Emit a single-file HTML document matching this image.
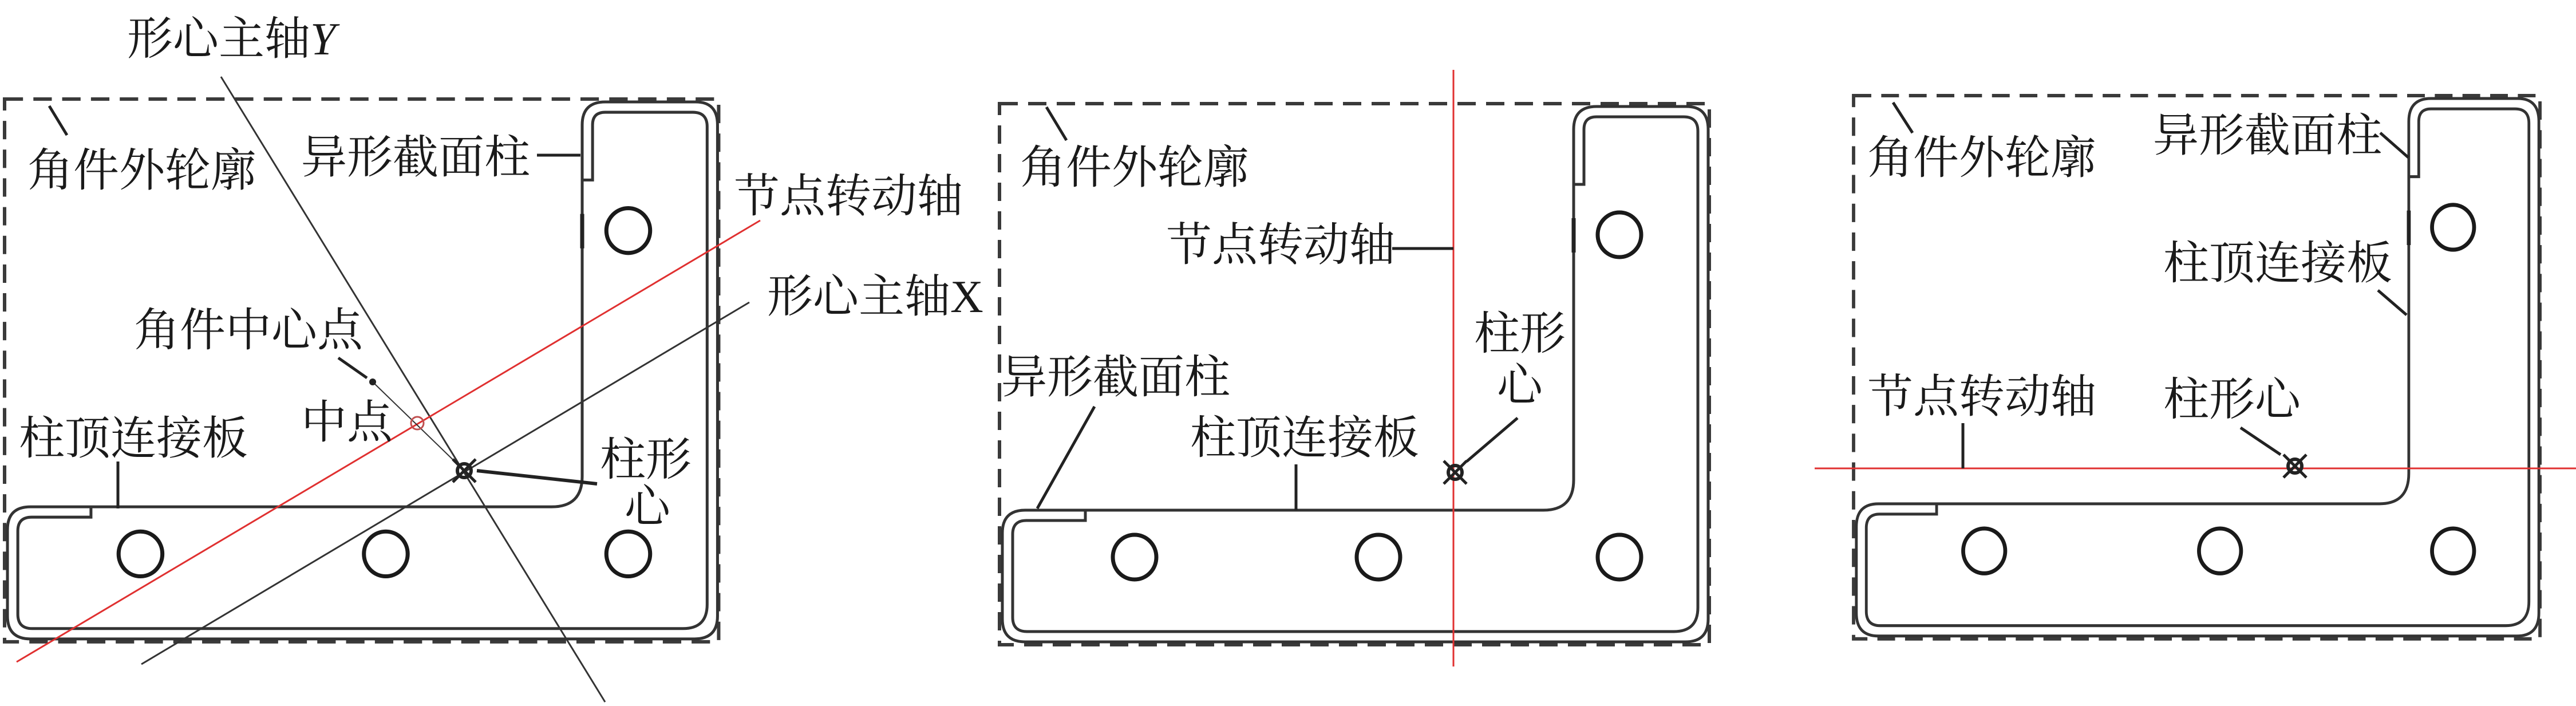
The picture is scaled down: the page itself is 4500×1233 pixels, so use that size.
<!DOCTYPE html>
<html><head><meta charset="utf-8"><style>
html,body{margin:0;padding:0;background:#fff;}
svg{display:block;}
text{font-family:"Liberation Serif","Noto Serif CJK SC",serif;font-size:80px;fill:#1a1a1a;}
</style></head><body>
<svg width="4500" height="1233" viewBox="0 0 4500 1233" xmlns="http://www.w3.org/2000/svg">
<defs>
<g id="panel">
  <rect x="0" y="0" width="1240" height="945" fill="none" stroke="#3a3a3a" stroke-width="6" stroke-dasharray="32 18"/>
  <path d="M1003,141 L1003,45 Q1003,5 1043,5 L1200,5 Q1238,5 1238,45 L1238,900 Q1238,940 1198,940 L45,940 Q5,940 5,900 L5,750 Q5,710 45,710 L950,710 Q1003,710 1003,657 Z" fill="none" stroke="#333" stroke-width="5"/>
  <path d="M1003,141 L1021,141 L1021,45 Q1021,23 1043,23 L1195,23 Q1220,23 1220,48 L1220,880 Q1220,922 1178,922 L48,922 Q23,922 23,897 L23,752 Q23,728 47,728 L150,728 L150,710" fill="none" stroke="#333" stroke-width="5"/>
  <line x1="1003" y1="200" x2="1003" y2="260" stroke="#222" stroke-width="7"/>
  <ellipse cx="1083" cy="229" rx="38" ry="39" fill="none" stroke="#1a1a1a" stroke-width="7"/>
  <ellipse cx="236" cy="792" rx="38" ry="39" fill="none" stroke="#1a1a1a" stroke-width="7"/>
  <ellipse cx="662" cy="792" rx="38" ry="39" fill="none" stroke="#1a1a1a" stroke-width="7"/>
  <ellipse cx="1083" cy="792" rx="38" ry="39" fill="none" stroke="#1a1a1a" stroke-width="7"/>
</g>
<g id="cent">
  <circle cx="0" cy="0" r="12" fill="none" stroke="#222" stroke-width="6"/>
  <line x1="-20" y1="-20" x2="20" y2="20" stroke="#222" stroke-width="5"/>
  <line x1="-20" y1="20" x2="20" y2="-20" stroke="#222" stroke-width="5"/>
</g>
</defs>

<!-- Panel 1 -->
<g transform="translate(8,173) scale(1.006,1.003)"><use href="#panel"/></g>
<line x1="386" y1="134" x2="1057" y2="1226" stroke="#333" stroke-width="3"/>
<line x1="247" y1="1160" x2="1309" y2="528" stroke="#333" stroke-width="3"/>
<line x1="29" y1="1156" x2="1328" y2="385" stroke="#e03030" stroke-width="3"/>
<line x1="651" y1="667" x2="811" y2="822" stroke="#333" stroke-width="2"/>
<circle cx="651" cy="667" r="6" fill="#222"/>
<circle cx="729" cy="739" r="11" fill="none" stroke="#c05050" stroke-width="3"/>
<use href="#cent" x="811" y="822"/>
<line x1="591" y1="625" x2="641" y2="660" stroke="#222" stroke-width="5"/>
<line x1="86" y1="185" x2="117" y2="236" stroke="#222" stroke-width="5"/>
<line x1="938" y1="271" x2="1014" y2="271" stroke="#222" stroke-width="5"/>
<line x1="206" y1="806" x2="206" y2="888" stroke="#222" stroke-width="5"/>
<line x1="833" y1="822" x2="1043" y2="845" stroke="#222" stroke-width="6"/>
<text x="222" y="95">形心主轴<tspan font-style="italic">Y</tspan></text>
<text x="48" y="325">角件外轮廓</text>
<text x="526" y="302">异形截面柱</text>
<text x="1282" y="370">节点转动轴</text>
<text x="1340" y="545">形心主轴X</text>
<text x="234" y="604">角件中心点</text>
<text x="526" y="765">中点</text>
<text x="33" y="793">柱顶连接板</text>
<text x="1048" y="830">柱形</text>
<text x="1091" y="912">心</text>

<!-- Panel 2 -->
<g transform="translate(1746,181)"><use href="#panel"/></g>
<line x1="2539" y1="122" x2="2539" y2="1164" stroke="#e03030" stroke-width="3"/>
<use href="#cent" x="2542" y="825"/>
<line x1="1828" y1="187" x2="1863" y2="245" stroke="#222" stroke-width="5"/>
<line x1="2432" y1="434" x2="2539" y2="434" stroke="#222" stroke-width="5"/>
<line x1="2651" y1="730" x2="2562" y2="806" stroke="#222" stroke-width="5"/>
<line x1="1912" y1="710" x2="1812" y2="888" stroke="#222" stroke-width="5"/>
<line x1="2264" y1="811" x2="2264" y2="891" stroke="#222" stroke-width="5"/>
<text x="1782" y="320">角件外轮廓</text>
<text x="2037" y="455">节点转动轴</text>
<text x="2575" y="610">柱形</text>
<text x="2615" y="700">心</text>
<text x="1749" y="686">异形截面柱</text>
<text x="2079" y="792">柱顶连接板</text>

<!-- Panel 3 -->
<g transform="translate(3238,167) scale(0.967,1.004)"><use href="#panel"/></g>
<line x1="3170" y1="818" x2="4500" y2="818" stroke="#e03030" stroke-width="3"/>
<use href="#cent" x="4009" y="814"/>
<line x1="3307" y1="179" x2="3341" y2="232" stroke="#222" stroke-width="5"/>
<line x1="4158" y1="232" x2="4207" y2="275" stroke="#222" stroke-width="5"/>
<line x1="4154" y1="507" x2="4204" y2="550" stroke="#222" stroke-width="5"/>
<line x1="3429" y1="739" x2="3429" y2="818" stroke="#222" stroke-width="5"/>
<line x1="3914" y1="747" x2="3984" y2="794" stroke="#222" stroke-width="5"/>
<text x="3262" y="303">角件外轮廓</text>
<text x="3761" y="264">异形截面柱</text>
<text x="3779" y="487">柱顶连接板</text>
<text x="3262" y="720">节点转动轴</text>
<text x="3779" y="725">柱形心</text>
</svg>
</body></html>
